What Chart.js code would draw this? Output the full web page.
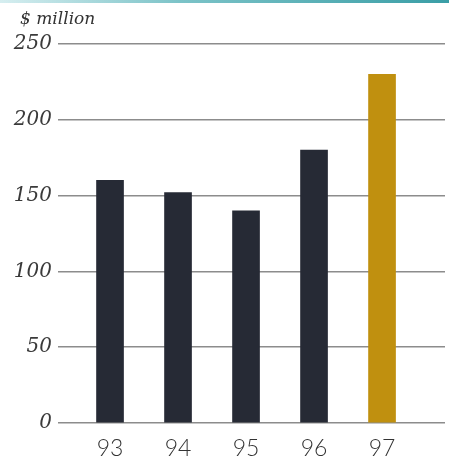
<!DOCTYPE html>
<html>
<head>
<meta charset="utf-8">
<script src="https://cdn.jsdelivr.net/npm/chart.js@4/dist/chart.umd.min.js"></script>
<style>
  html, body { margin: 0; padding: 0; background: #fff; }
  #wrap { position: relative; width: 449px; height: 459px; }
  #myChart { display: block; }
  #rule { position: absolute; left: 0; top: 0; width: 449px; height: 3px;
          background: linear-gradient(to right, #d6eef0 0%, #7cc3c8 40%, #3a9ea6 100%); }
</style>
</head>
<body>
<div id="wrap">
  <div id="rule"></div>
  <canvas id="myChart" width="449" height="459"></canvas>
</div>
<script>
// revenue by year, $ million
var years = [93, 94, 95, 96, 97];
var revenue = [160, 152, 140, 180, 230];
var yTicks = [0, 50, 100, 150, 200, 250];
var barColors = ['#262a35', '#262a35', '#262a35', '#262a35', '#c0900f'];

var unitLabel = {
  id: 'unitLabel',
  afterDraw: function (chart) {
    var ctx = chart.ctx;
    ctx.save();
    ctx.font = 'italic 17px "DejaVu Serif"';
    ctx.fillStyle = '#333';
    ctx.textBaseline = 'alphabetic';
    ctx.fillText('$ million', 20, 24);
    ctx.restore();
  }
};

var ctx = document.getElementById('myChart');
var myChart = new Chart(ctx, {
  type: 'bar',
  data: {
    datasets: [{
      data: years.map(function (y, i) { return { x: y, y: revenue[i] }; }),
      backgroundColor: barColors,
      borderWidth: 0,
      barThickness: 27
    }]
  },
  options: {
    responsive: false,
    animation: false,
    layout: { padding: { left: 0, right: 4, top: 44, bottom: 0 } },
    plugins: { legend: { display: false }, tooltip: { enabled: false } },
    scales: {
      x: {
        type: 'linear',
        offset: false,
        min: 92.235,
        max: 97.926,
        grid: { display: false },
        border: { display: false },
        afterBuildTicks: function (scale) {
          scale.ticks = years.map(function (v) { return { value: v }; });
        },
        afterFit: function (scale) { scale.height = 36; },
        ticks: {
          padding: 4,
          color: '#333',
          font: { family: 'Lato', weight: 300, size: 23 },
          callback: function (v) { return String(v); }
        }
      },
      y: {
        min: 0,
        max: 250,
        afterBuildTicks: function (scale) {
          scale.ticks = yTicks.map(function (v) { return { value: v }; });
        },
        afterFit: function (scale) { scale.width = 58; },
        grid: { color: '#8c8c8c', lineWidth: 1.5, drawTicks: false },
        border: { display: false },
        ticks: {
          padding: 6,
          color: '#3a3a3a',
          font: { family: 'DejaVu Serif', style: 'italic', size: 20 }
        }
      }
    }
  },
  plugins: [unitLabel]
});
</script>
</body>
</html>
